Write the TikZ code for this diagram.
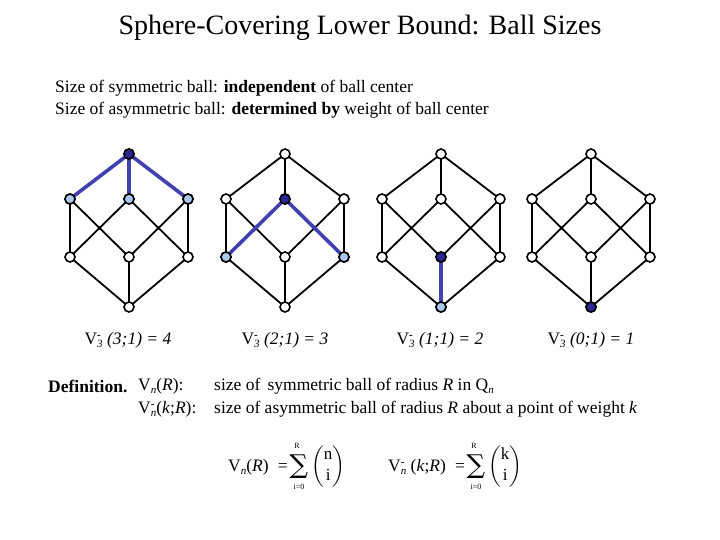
\documentclass[tikz,border=0pt]{standalone}
\usepackage{fontspec}
\usepackage{amsmath}
\setmainfont{Liberation Serif}
\newfontfamily\symf{DejaVu Serif}
\definecolor{hlc}{RGB}{64,64,176}
\definecolor{dkc}{RGB}{40,40,150}
\definecolor{ltc}{RGB}{170,200,235}
\begin{document}
\begin{tikzpicture}[x=1pt,y=-1pt,
  vtx/.style={circle,draw=black,line width=1.6pt,fill=white,inner sep=0pt,minimum size=10pt},
  dk/.style={fill=dkc},
  lt/.style={fill=ltc},
  edge/.style={line width=1.8pt},
  hl/.style={line width=3.6pt,draw=hlc},
  txt/.style={font=\fontsize{17.5}{20}\selectfont,inner sep=0pt},
  lim/.style={font=\fontsize{8}{8}\selectfont,inner sep=0pt},
  sig/.style={font=\symf\fontsize{26}{26}\selectfont,inner sep=0pt}]
\useasboundingbox (0,0) rectangle (720,540);
\newcommand\sub[1]{\raisebox{-0.45ex}{\fontsize{11}{11}\selectfont\itshape #1}}
\newcommand\Vm[1]{V\rlap{\raisebox{0.75ex}{\bfseries\fontsize{11}{11}\selectfont-}}\sub{#1}}
\newcommand\mycube[2]{%
  \begin{scope}[shift={(#2,0)}]
  \coordinate (#1t) at (0,154);
  \coordinate (#1a) at (-59,199); \coordinate (#1b) at (0,199); \coordinate (#1c) at (59,199);
  \coordinate (#1d) at (-59,257); \coordinate (#1e) at (0,257); \coordinate (#1f) at (59,257);
  \coordinate (#1z) at (0,307);
  \end{scope}
  \draw[edge] (#1t)--(#1a) (#1t)--(#1b) (#1t)--(#1c)
    (#1a)--(#1d) (#1a)--(#1e) (#1b)--(#1d) (#1b)--(#1f) (#1c)--(#1e) (#1c)--(#1f)
    (#1d)--(#1z) (#1e)--(#1z) (#1f)--(#1z);}
\node[font=\fontsize{28}{30}\selectfont] (title) at (360,28) {Sphere-Covering Lower Bound: Ball Sizes};
\node[txt,anchor=west] (l1) at (55,88) {Size of symmetric ball: \textbf{independent} of ball center};
\node[txt,anchor=west] (l2) at (55,110) {Size of asymmetric ball: \textbf{determined by} weight of ball center};
\mycube{A}{129}\mycube{B}{285}\mycube{C}{441}\mycube{D}{591}
\draw[hl] (At)--(Aa) (At)--(Ab) (At)--(Ac);
\draw[hl] (Bb)--(Bd) (Bb)--(Bf);
\draw[hl] (Ce)--(Cz);
\foreach \c in {A,B,C,D}{\foreach \v in {t,a,b,c,d,e,f,z}{\node[vtx] (\c\v n) at (\c\v) {};}}
\node[vtx,dk] at (At) {}; \node[vtx,lt] at (Aa) {}; \node[vtx,lt] at (Ab) {}; \node[vtx,lt] at (Ac) {};
\node[vtx,dk] at (Bb) {}; \node[vtx,lt] at (Bd) {}; \node[vtx,lt] at (Bf) {};
\node[vtx,dk] at (Ce) {}; \node[vtx,lt] at (Cz) {};
\node[vtx,dk] at (Dz) {};
\node[txt] (v1) at (128,340) {\Vm{3} \textit{(3;1) = 4}};
\node[txt] (v2) at (285,340) {\Vm{3} \textit{(2;1) = 3}};
\node[txt] (v3) at (440,340) {\Vm{3} \textit{(1;1) = 2}};
\node[txt] (v4) at (591,340) {\Vm{3} \textit{(0;1) = 1}};
\node[txt,anchor=west] (def) at (48,386) {\textbf{Definition.}};
\node[txt,anchor=west] (d1) at (138,386) {V\sub{n}(\textit{R}):};
\node[txt,anchor=west] (d2) at (138,409) {\Vm{n}(\textit{k};\textit{R}):};
\node[txt,anchor=west] (e1) at (214,386) {size of\, symmetric ball of radius \textit{R} in Q\sub{n}};
\node[txt,anchor=west] (e2) at (214,409) {size of asymmetric ball of radius \textit{R} about a point of weight \textit{k}};
\node[txt,anchor=west] (f1) at (228,467) {V\sub{n}(\textit{R})\; = };
\node[txt,anchor=west] (f2) at (388,467) {\Vm{n} (\textit{k};\textit{R})\; =};
\node[sig] (s1) at (299,467) {∑};
\node[lim] (r1) at (297,446) {R};
\node[lim] (i1) at (299,487) {i=0};
\node[font=\fontsize{17}{17}\selectfont,inner sep=0pt,anchor=west] (b1) at (311,467) {$\left(\begin{array}{@{}c@{}}\mathrm{n}\\[4pt]\mathrm{i}\end{array}\right)$};
\node[sig] (s2) at (476,467) {∑};
\node[lim] (r2) at (474,446) {R};
\node[lim] (i2) at (476,487) {i=0};
\node[font=\fontsize{17}{17}\selectfont,inner sep=0pt,anchor=west] (b2) at (488,467) {$\left(\begin{array}{@{}c@{}}\mathrm{k}\\[4pt]\mathrm{i}\end{array}\right)$};
\end{tikzpicture}
\end{document}
